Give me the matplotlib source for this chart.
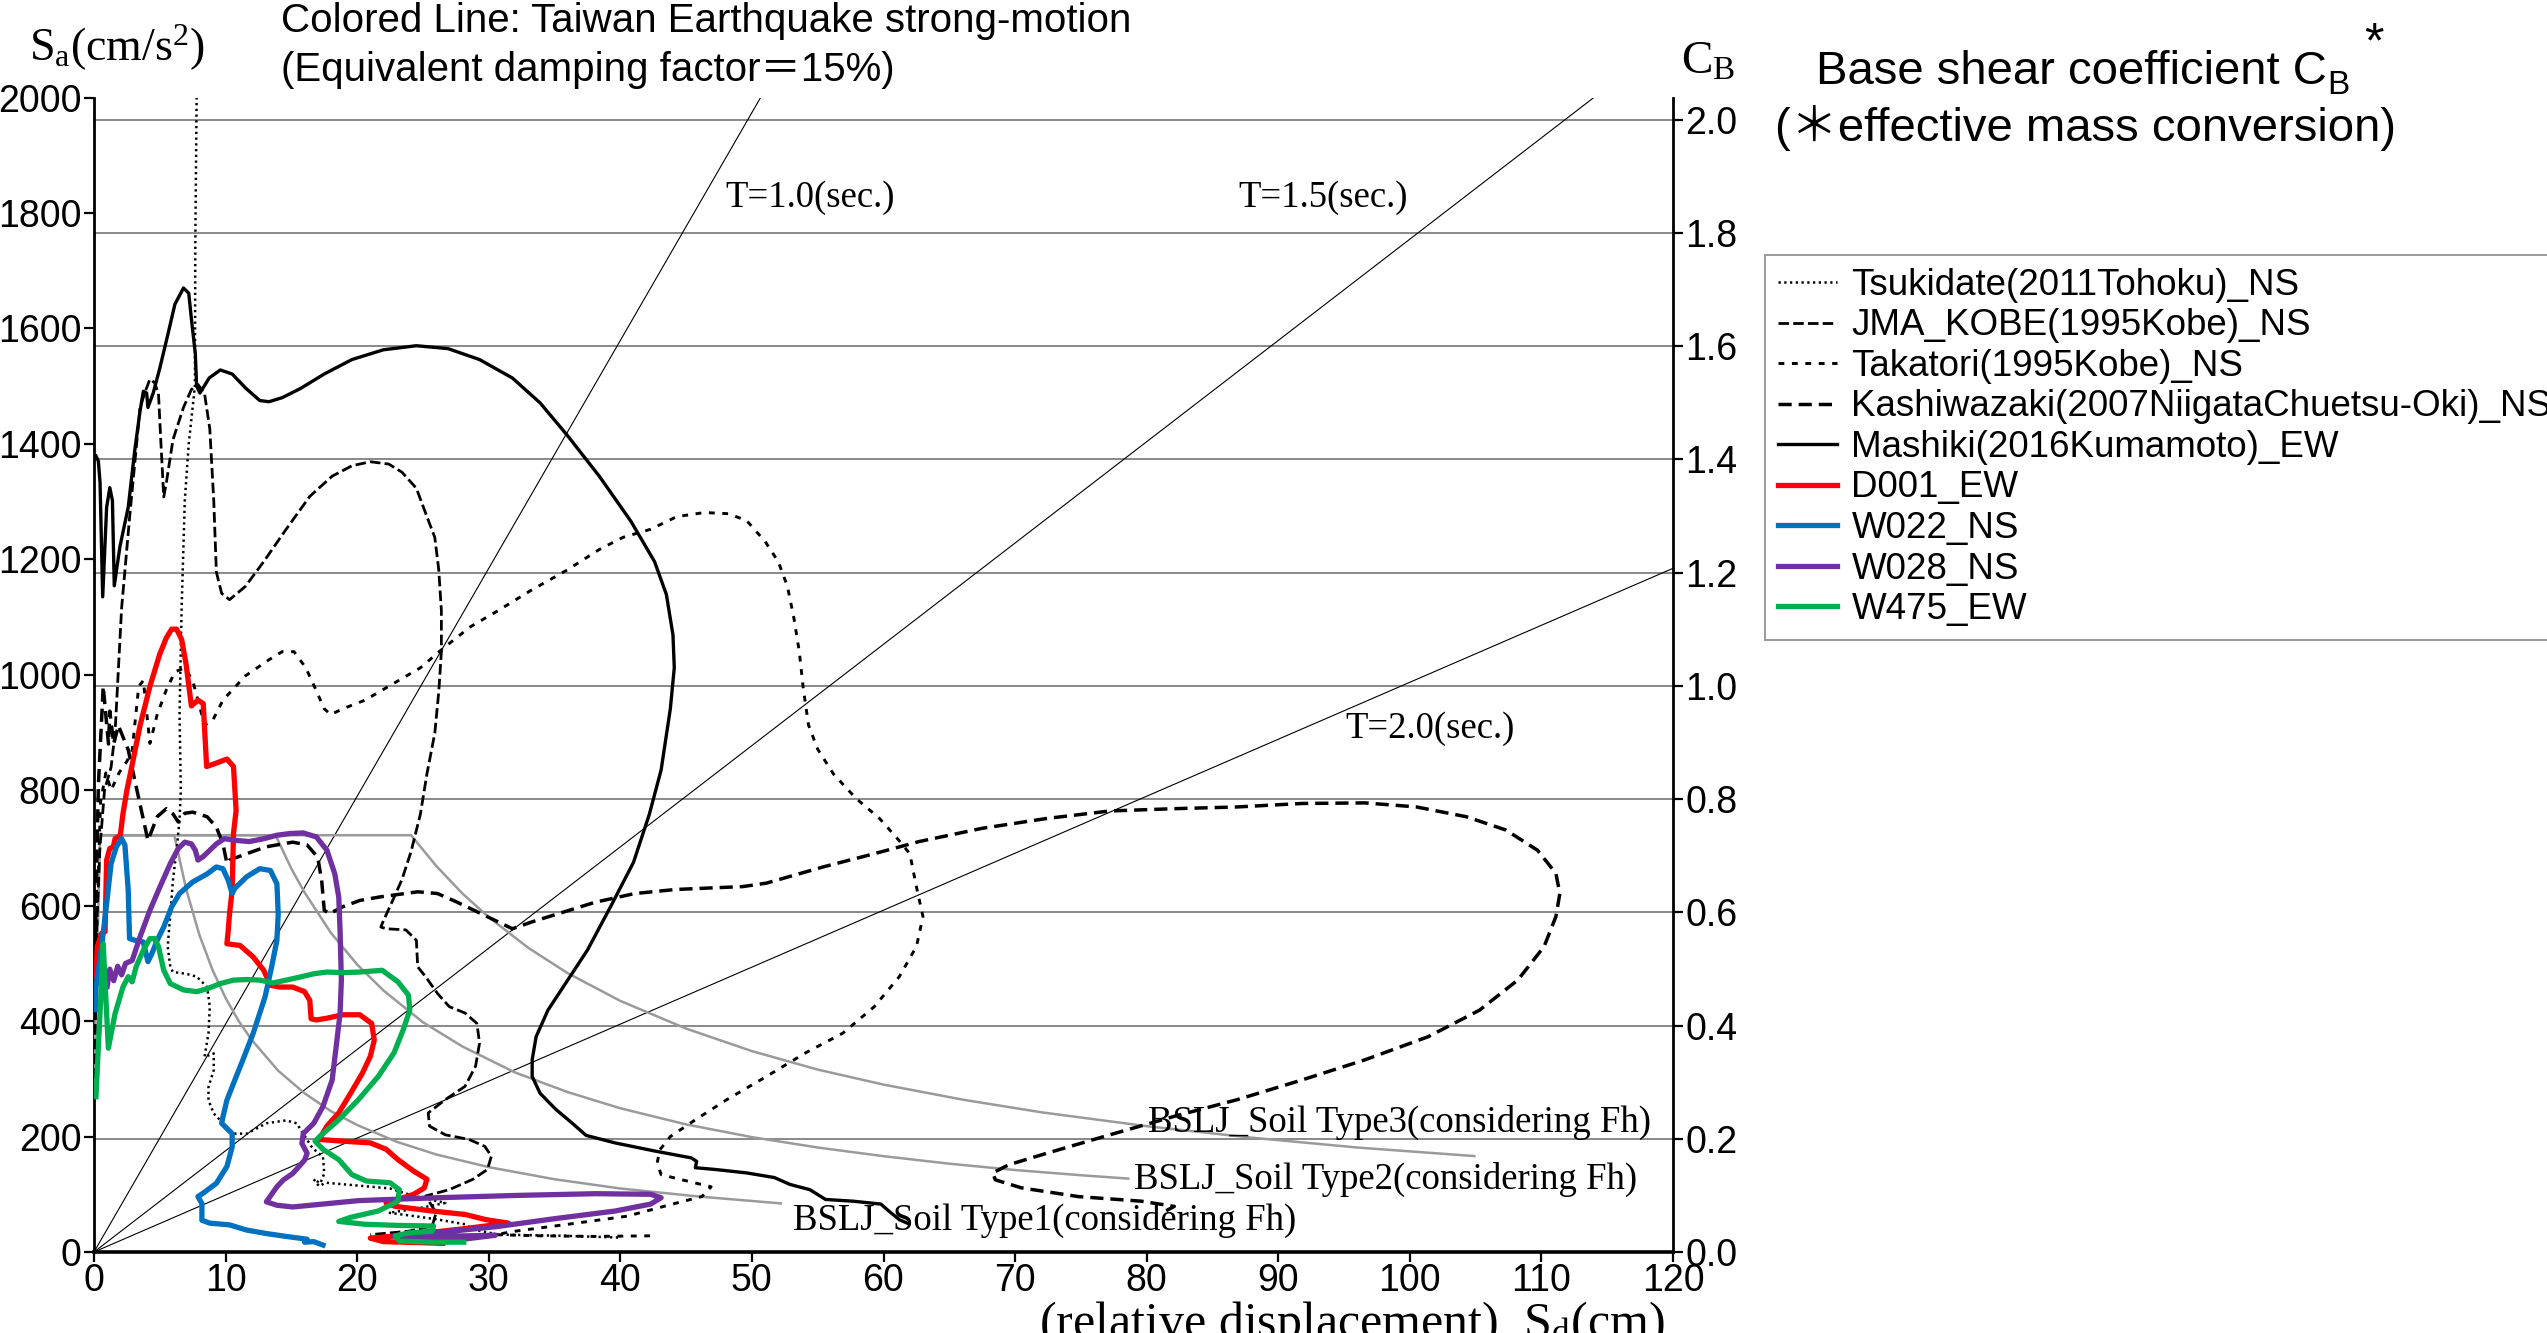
import numpy as np
import matplotlib
matplotlib.use("Agg")
import matplotlib.pyplot as plt

# ---------------------------------------------------------------- data
G = 980.665  # cm/s^2 per 1 g

PERIODS = [1.0, 1.5, 2.0]
PERIOD_LABELS = ["T=1.0(sec.)", "T=1.5(sec.)", "T=2.0(sec.)"]
CB_GRID = [0.2, 0.4, 0.6, 0.8, 1.0, 1.2, 1.4, 1.6, 1.8, 2.0]

# Building-code (BSLJ) demand spectra, Sd [cm] / Sa [cm/s^2]
bslj1_sd = [0.0, 0.47, 6.1, 7.0, 8.0, 9.0, 10.0, 11.0, 12.0, 14.0, 16.0, 18.0,
            20.0, 23.0, 26.0, 30.0, 35.0, 40.0, 46.0, 52.3]
bslj1_sa = [290, 722, 722, 629, 550, 489, 440, 400, 367, 314, 275, 244,
            220, 191, 169, 147, 126, 110, 96, 84]
bslj2_sd = [0.47, 13.8, 15, 16, 18, 20, 22, 25, 28, 32, 36, 40, 45, 50, 55,
            60, 65, 70, 75, 78.7]
bslj2_sa = [722, 722, 664, 623, 553, 498, 453, 398, 356, 311, 277, 249, 221,
            199, 181, 166, 153, 142, 133, 127]
bslj3_sd = [0.47, 24.1, 26, 28, 30, 33, 36, 40, 45, 50, 55, 60, 66, 72, 80,
            88, 96, 105]
bslj3_sa = [722, 722, 669, 621, 580, 527, 483, 435, 387, 348, 316, 290, 264,
            242, 218, 198, 181, 166]

# Recorded strong motions (Sd, Sa)
tsukidate_sd = [7.85, 7.8, 7.7, 7.67, 7.2, 6.9, 6.66, 6.5, 6.6, 6.5, 6.3, 6.0,
                5.8, 5.6, 5.8, 6.0, 7.0, 7.8, 8.6, 8.8, 8.7, 8.4, 9.1, 9.1,
                8.7, 8.7, 9.1, 9.6, 10.6, 11.6, 13.1, 14.6, 15.4, 15.9, 16.6,
                17.4, 17.5, 17.2, 16.7, 17.1, 17.6, 20.6, 22.5, 23.9, 24.9,
                26.7, 24.5, 22.4, 24.4, 26.2, 28.2, 28.8, 30.8, 35.9, 39.9]
tsukidate_sa = [2100, 2000, 1750, 1500, 1400, 1302, 1116, 931, 800, 748, 702,
                644, 586, 529, 494, 485, 482, 477, 459, 425, 379, 338, 344,
                315, 286, 263, 240, 228, 205, 205, 223, 228, 223, 205, 180,
                165, 136, 119, 126, 114, 120, 114, 110, 100, 94, 85, 75, 68,
                62, 56, 48, 39, 30, 28, 25]

jma_sd = [0.05, 0.2, 0.45, 0.8, 1.3, 1.6, 2.1, 2.7, 3.5, 3.9, 4.25, 4.6, 4.9,
          5.1, 5.3, 5.5, 6.0, 6.8, 7.4, 7.9, 8.4, 8.8, 9.1, 9.3, 9.7, 10.3,
          11.5, 12.9, 14.6, 16.4, 18.1, 19.6, 21.0, 22.4, 23.4, 24.5, 25.3,
          25.9, 26.2, 26.4, 26.4, 26.2, 25.9, 25.3, 24.8, 24.1, 23.4, 22.7,
          22.0, 21.8, 22.2, 23.7, 24.5, 24.6, 25.2, 26.1, 27.0, 28.2, 29.1,
          29.3, 29.0, 28.2, 26.7, 25.4, 25.5, 26.7, 28.5, 29.7, 30.2, 29.9,
          28.8, 27.0, 25.2, 26.0, 25.7, 23.9, 21.0]
jma_sa = [300, 560, 700, 800, 840, 900, 1116, 1271, 1463, 1491, 1512, 1506,
          1487, 1395, 1308, 1333, 1407, 1463, 1494, 1503, 1487, 1426, 1302,
          1178, 1141, 1130, 1153, 1196, 1252, 1309, 1344, 1362, 1369, 1365,
          1351, 1323, 1274, 1238, 1182, 1111, 1040, 970, 899, 828, 758, 694,
          645, 609, 574, 563, 560, 558, 540, 494, 477, 448, 425, 414, 396,
          362, 322, 287, 264, 241, 218, 203, 195, 183, 166, 143, 126, 108,
          97, 68, 45, 36, 30]

takatori_sd = [0.05, 0.25, 0.5, 0.9, 1.3, 1.9, 2.5, 2.9, 3.4, 3.75, 4.25, 4.8,
               5.5, 6.15, 6.9, 7.5, 8.4, 9.0, 9.8, 11.5, 13.3, 14.3, 15.2,
               16.1, 16.8, 17.5, 18.0, 18.9, 20.6, 22.7, 24.8, 26.6, 28.6,
               30.7, 33.2, 36.0, 38.4, 40.2, 42.3, 44.3, 46.4, 48.2, 49.6,
               51.0, 52.0, 52.7, 53.2, 53.6, 53.9, 54.3, 55.0, 56.2, 57.9,
               59.7, 61.1, 62.0, 62.5, 63.0, 62.5, 61.2, 59.3, 56.9, 54.0,
               51.1, 48.1, 45.7, 43.8, 43.0, 42.8, 43.1, 44.7, 46.9, 46.2,
               44.3, 40.5, 36.0, 32.0, 30.5, 34.0, 38.0, 42.3]
takatori_sa = [380, 600, 780, 830, 800, 830, 850, 869, 980, 990, 881, 931,
               974, 1005, 1012, 990, 913, 920, 956, 998, 1026, 1040, 1040,
               1012, 977, 941, 931, 941, 956, 984, 1012, 1047, 1083, 1111,
               1146, 1182, 1217, 1238, 1252, 1274, 1281, 1279, 1267, 1231,
               1196, 1153, 1097, 1040, 977, 913, 871, 828, 786, 751, 715, 690,
               633, 581, 529, 477, 425, 379, 344, 304, 264, 229, 200, 177, 154,
               134, 125, 113, 96, 85, 62, 48, 36, 30, 28, 27, 28]

kashiwazaki_sd = [0.05, 0.33, 0.7, 1.1, 1.2, 1.5, 1.85, 2.6, 3.1, 3.6, 4.1,
                  4.8, 5.5, 6.0, 6.4, 6.9, 7.5, 8.6, 9.3, 9.8, 10.1, 10.3,
                  11.6, 13.1, 15.1, 16.2, 17.0, 17.3, 17.5, 17.9, 18.9, 20.2,
                  21.7, 24.6, 26.1, 27.6, 29.7, 31.8, 33.3, 35.7, 38.1, 41.1,
                  44.2, 47.2, 49.3, 51.1, 55.4, 59.3, 62.7, 67.5, 72.4, 77.2,
                  82.1, 86.9, 91.8, 96.6, 100.5, 104.3, 107.3, 109.7, 111.1,
                  111.4, 111.1, 110.2, 108.2, 105.3, 101.4, 96.6, 91.8, 86.9,
                  82.1, 77.2, 72.4, 69.5, 68.3, 68.5, 70.5, 74.8, 79.6, 82.1,
                  81.1]
kashiwazaki_sa = [500, 807, 980, 880, 937, 880, 912, 870, 817, 765, 713, 754,
                  768, 759, 745, 760, 762, 754, 736, 707, 673, 679, 690, 702,
                  710, 705, 684, 644, 592, 586, 598, 609, 615, 624, 621, 606,
                  583, 560, 572, 589, 606, 621, 628, 631, 633, 639, 667, 690,
                  711, 734, 751, 764, 768, 771, 777, 778, 771, 754, 731, 696,
                  656, 621, 581, 529, 471, 419, 373, 333, 298, 264, 235, 203,
                  171, 151, 137, 125, 111, 96, 88, 79, 67]

mashiki_sd = [0.15, 0.33, 0.46, 0.66, 0.96, 1.2, 1.4, 1.54, 1.97, 2.6, 3.1,
              3.5, 3.75, 4.0, 4.1, 4.5, 5.0, 5.65, 6.15, 6.8, 7.2, 7.4, 7.7,
              7.8, 8.05, 8.75, 9.6, 10.5, 11.55, 12.6, 13.3, 14.3, 15.7, 17.5,
              19.6, 22.0, 24.5, 26.9, 29.3, 31.8, 33.9, 35.96, 38.4, 40.8,
              42.6, 43.5, 44.0, 44.1, 43.8, 43.1, 42.2, 41.0, 39.3, 37.5,
              36.0, 34.5, 33.6, 33.3, 33.3, 33.9, 35.1, 36.3, 37.4, 39.6,
              42.6, 45.4, 45.8, 45.7, 47.2, 49.6, 51.7, 52.9, 54.4, 55.6,
              57.7, 59.8, 60.3, 61.2, 61.8]
mashiki_sa = [1379, 1370, 1333, 1135, 1290, 1324, 1302, 1154, 1222, 1290,
              1389, 1457, 1491, 1488, 1463, 1488, 1531, 1593, 1642, 1670,
              1661, 1617, 1556, 1500, 1488, 1514, 1528, 1521, 1496, 1475,
              1473, 1480, 1496, 1521, 1546, 1563, 1570, 1565, 1546, 1514,
              1471, 1415, 1344, 1266, 1196, 1139, 1069, 1012, 941, 835, 758,
              675, 600, 523, 471, 419, 373, 333, 304, 275, 247, 224, 202, 189,
              175, 163, 157, 146, 143, 137, 129, 117, 108, 91, 88, 83, 73, 56,
              50]

d001_sd = [0.15, 0.25, 0.58, 0.84, 0.96, 1.2, 1.47, 1.6, 2.0, 2.2, 2.5, 2.9,
           3.5, 4.25, 5.0, 5.5, 5.9, 6.28, 6.66, 7.0, 7.4, 7.9, 8.3, 8.56,
           9.3, 10.1, 10.6, 10.8, 10.6, 10.5, 10.3, 10.2, 10.1, 11.1, 12.1,
           12.9, 13.4, 14.1, 15.1, 16.0, 16.4, 16.5, 16.9, 17.7, 18.9, 20.2,
           21.1, 21.3, 21.0, 20.4, 19.5, 18.6, 17.7, 17.1, 18.9, 21.0, 22.2,
           23.1, 24.3, 25.3, 25.1, 24.3, 23.1, 22.2, 22.9, 25.7, 28.2, 29.8,
           31.5, 28.0, 24.0, 21.0, 22.0, 26.5]
d001_sa = [477, 529, 552, 555, 679, 699, 702, 716, 722, 759, 800, 844, 912,
           980, 1036, 1064, 1079, 1079, 1061, 1018, 946, 956, 950, 841, 847,
           854, 841, 765, 725, 627, 586, 557, 534, 531, 511, 488, 462, 459,
           459, 451, 436, 404, 402, 405, 411, 411, 396, 367, 339, 310, 275,
           241, 218, 195, 192, 189, 178, 160, 140, 126, 111, 100, 91, 85, 79,
           71, 65, 56, 50, 40, 30, 24, 18, 15]

w022_sd = [0.1, 0.15, 0.58, 0.96, 1.3, 1.7, 2.1, 2.35, 2.6, 2.7, 3.1, 3.75,
           4.1, 4.4, 4.8, 5.3, 5.9, 6.5, 7.5, 8.6, 9.3, 9.8, 10.2, 10.5, 10.7,
           11.6, 12.6, 13.4, 13.9, 14.0, 13.9, 13.5, 13.0, 12.1, 11.3, 10.6,
           10.1, 9.8, 9.7, 10.5, 10.5, 10.1, 9.3, 8.3, 7.9, 8.2, 8.2, 8.8,
           10.3, 11.6, 13.1, 14.6, 15.6, 16.2, 16.0, 16.7, 17.4]
w022_sa = [420, 459, 529, 604, 673, 702, 716, 705, 627, 543, 540, 537, 503,
           517, 540, 563, 598, 621, 641, 655, 667, 664, 644, 621, 630, 650,
           664, 661, 638, 586, 540, 494, 442, 379, 332, 292, 263, 234, 223,
           205, 182, 148, 119, 102, 96, 84, 55, 50, 47, 38, 32, 27, 24, 22,
           17, 18, 12]

w028_sd = [1.0, 1.2, 1.5, 1.8, 2.1, 2.4, 2.9, 3.5, 4.25, 5.0, 5.8, 6.4, 6.9,
           7.4, 7.7, 7.9, 8.3, 8.8, 9.3, 9.9, 10.8, 11.8, 12.9, 13.9, 14.9,
           15.9, 16.9, 17.7, 18.3, 18.6, 18.7, 18.8, 18.7, 18.4, 18.1, 17.4,
           16.7, 15.9, 15.8, 16.2, 16.0, 15.1, 14.4, 13.9, 13.1, 13.9, 15.1,
           20.1, 26.1, 32.1, 38.1, 42.3, 43.1, 42.3, 39.6, 35.1, 30.6, 27.6,
           24.0, 22.8, 26.0, 30.5, 28.0, 23.5]
w028_sa = [460, 490, 470, 495, 480, 500, 505, 546, 592, 632, 673, 699, 710,
           707, 696, 679, 685, 696, 707, 716, 713, 711, 716, 722, 725, 726,
           719, 696, 655, 615, 557, 471, 413, 355, 298, 252, 223, 205, 188,
           171, 159, 136, 125, 113, 87, 81, 78, 89, 94, 98, 101, 100, 94, 83,
           71, 58, 44, 37, 31, 28, 27, 29, 22, 21]

w475_sd = [0.15, 0.33, 0.58, 0.7, 0.9, 1.09, 1.6, 2.2, 2.6, 2.9, 3.2, 3.75,
           4.25, 4.6, 4.9, 5.3, 5.8, 6.8, 7.8, 8.6, 9.6, 10.6, 11.6, 12.6,
           13.6, 14.6, 15.6, 16.7, 17.7, 18.9, 20.2, 21.9, 23.1, 23.9, 24.0,
           23.5, 22.8, 21.6, 20.1, 18.6, 17.2, 16.8, 17.4, 18.6, 19.6, 20.7,
           22.5, 23.2, 23.1, 21.6, 19.5, 18.6, 20.6, 23.2, 25.8, 25.7, 23.9,
           22.9, 23.2, 25.7, 28.1]
w475_sa = [269, 355, 471, 534, 440, 353, 413, 459, 477, 468, 494, 523, 543,
           543, 529, 488, 465, 454, 451, 456, 465, 471, 472, 471, 466, 471,
           476, 482, 485, 484, 485, 488, 468, 445, 419, 385, 345, 304, 264,
           229, 201, 192, 178, 160, 134, 123, 120, 108, 88, 71, 60, 53, 48,
           46, 45, 36, 33, 28, 19, 17, 17]

SERIES = [
    ("Tsukidate(2011Tohoku)_NS", tsukidate_sd, tsukidate_sa),
    ("JMA_KOBE(1995Kobe)_NS", jma_sd, jma_sa),
    ("Takatori(1995Kobe)_NS", takatori_sd, takatori_sa),
    ("Kashiwazaki(2007NiigataChuetsu-Oki)_NS", kashiwazaki_sd, kashiwazaki_sa),
    ("Mashiki(2016Kumamoto)_EW", mashiki_sd, mashiki_sa),
    ("D001_EW", d001_sd, d001_sa),
    ("W022_NS", w022_sd, w022_sa),
    ("W028_NS", w028_sd, w028_sa),
    ("W475_EW", w475_sd, w475_sa),
]

# ---------------------------------------------------------------- styles
SANS = ["Liberation Sans", "Noto Sans CJK JP", "DejaVu Sans"]
SERIF = ["Liberation Serif", "DejaVu Serif"]
plt.rcParams["font.family"] = SANS
plt.rcParams["mathtext.fontset"] = "custom"
plt.rcParams["mathtext.rm"] = "Liberation Serif"
plt.rcParams["mathtext.it"] = "Liberation Serif:italic"

STYLES = {
    "Tsukidate(2011Tohoku)_NS": dict(color="black", lw=1.8, ls=(0, (0.9, 1.4))),
    "JMA_KOBE(1995Kobe)_NS": dict(color="black", lw=2.0, ls=(0, (3.8, 1.5))),
    "Takatori(1995Kobe)_NS": dict(color="black", lw=2.1, ls=(0, (2.0, 2.6))),
    "Kashiwazaki(2007NiigataChuetsu-Oki)_NS": dict(color="black", lw=2.5, ls=(0, (3.8, 2.0))),
    "Mashiki(2016Kumamoto)_EW": dict(color="black", lw=2.4, ls="-"),
    "D001_EW": dict(color="#ff0000", lw=3.8, ls="-"),
    "W022_NS": dict(color="#0070c0", lw=3.8, ls="-"),
    "W028_NS": dict(color="#7030a0", lw=3.8, ls="-"),
    "W475_EW": dict(color="#00b050", lw=3.8, ls="-"),
}

W, H = 2547, 1333
fig = plt.figure(figsize=(W / 100, H / 100), dpi=100)


def fx(px):
    return px / W


def fy(py):
    return 1 - py / H


ax = fig.add_axes([fx(94), fy(1252), fx(1673) - fx(94), fy(97.5) - fy(1252)])
ax.set_xlim(0, 120)
ax.set_ylim(0, 2000)

# horizontal base-shear grid
for cb in CB_GRID:
    ax.axhline(cb * G, color="#808080", lw=1.3, zorder=1)

# constant-period lines
sd_line = np.array([0.0, 120.0])
for T in PERIODS:
    ax.plot(sd_line, (2 * np.pi / T) ** 2 * sd_line, color="black", lw=0.8,
            zorder=2)

# BSLJ spectra
for sd, sa in [(bslj1_sd, bslj1_sa), (bslj2_sd, bslj2_sa), (bslj3_sd, bslj3_sa)]:
    ax.plot(sd, sa, color="#9a9a9a", lw=1.8, zorder=3, solid_capstyle="butt")

handles = []
for i, (name, sd, sa) in enumerate(SERIES):
    st = STYLES[name]
    (ln,) = ax.plot(sd, sa, color=st["color"], lw=st["lw"], ls=st["ls"],
                    label=name, zorder=4 + i, solid_joinstyle="round")
    handles.append(ln)

# axes frame
for side in ("top", "right"):
    ax.spines[side].set_visible(False)
ax.spines["left"].set_linewidth(2.0)
ax.spines["bottom"].set_linewidth(2.6)
ax.set_xticks(np.arange(0, 121, 10))
ax.set_yticks(np.arange(0, 2001, 200))
ax.tick_params(axis="both", direction="out", length=7, width=1.6,
               labelsize=27, pad=2)
ax.tick_params(axis="x", pad=1)

ax2 = ax.twinx()
ax2.set_ylim(0, 2000 / G)
ax2.set_yticks(np.round(np.arange(0, 2.01, 0.2), 1))
ax2.set_yticklabels([f"{v:.1f}" for v in np.arange(0, 2.01, 0.2)])
for side in ("top", "left", "bottom"):
    ax2.spines[side].set_visible(False)
ax2.spines["right"].set_linewidth(2.0)
ax2.tick_params(axis="y", direction="out", length=7, width=1.6, labelsize=27,
                pad=2)

# labels on the chart
ax.text(48.0, 1826, PERIOD_LABELS[0], family=SERIF, fontsize=26.5,
        ha="left", va="center")
ax.text(87.0, 1826, PERIOD_LABELS[1], family=SERIF, fontsize=26.5,
        ha="left", va="center")
ax.text(95.1, 906, PERIOD_LABELS[2], family=SERIF, fontsize=26.5,
        ha="left", va="center")
ax.text(80.1, 225, "BSLJ_Soil Type3(considering Fh)", family=SERIF,
        fontsize=26.5, ha="left", va="center", zorder=20)
ax.text(79.0, 125, "BSLJ_Soil Type2(considering Fh)", family=SERIF,
        fontsize=26.5, ha="left", va="center", zorder=20)
ax.text(53.1, 55, "BSLJ_Soil Type1(considering Fh)", family=SERIF,
        fontsize=26.5, ha="left", va="center", zorder=20)

# axis titles
fig.text(fx(29), fy(48), r"S$_{\mathrm{a}}$(cm/s$^{\mathrm{2}}$)", family=SERIF,
         fontsize=33, ha="left", va="center")
fig.text(fx(1681), fy(62), r"C$_{\mathrm{B}}$", family=SERIF, fontsize=34,
         ha="left", va="center")
fig.text(fx(1039), fy(1337), r"(relative displacement)  S$_{\mathrm{d}}$(cm)",
         family=SERIF, fontsize=36, ha="left", va="baseline")

# headings
fig.text(fx(281), fy(21), "Colored Line: Taiwan Earthquake strong-motion",
         fontsize=29, ha="left", va="center")
fig.text(fx(281), fy(70), "(Equivalent damping factor\uff1d15%)",
         fontsize=29, ha="left", va="center")

t = fig.text(fx(1816), fy(72), "Base shear coefficient C", fontsize=34,
             ha="left", va="center")
fig.canvas.draw()
bb = t.get_window_extent()
fig.text(bb.x1 / W, fy(86), "B", fontsize=24, ha="left", va="center")
fig.text(fx(2364), fy(44), "*", fontsize=36, ha="left", va="center")
fig.text(fx(1775), fy(128), "(\uff0aeffective mass conversion)", fontsize=34,
         ha="left", va="center")

leg = fig.legend(handles=handles, loc="upper left",
                 bbox_to_anchor=(fx(1765), fy(255)), fontsize=26.5,
                 frameon=True, fancybox=False, borderpad=0.35,
                 labelspacing=0.15, handlelength=1.6, handletextpad=0.4,
                 borderaxespad=0.0)
leg.get_frame().set_edgecolor("#808080")
leg.get_frame().set_linewidth(1.4)

fig.savefig("out.png", dpi=100)
